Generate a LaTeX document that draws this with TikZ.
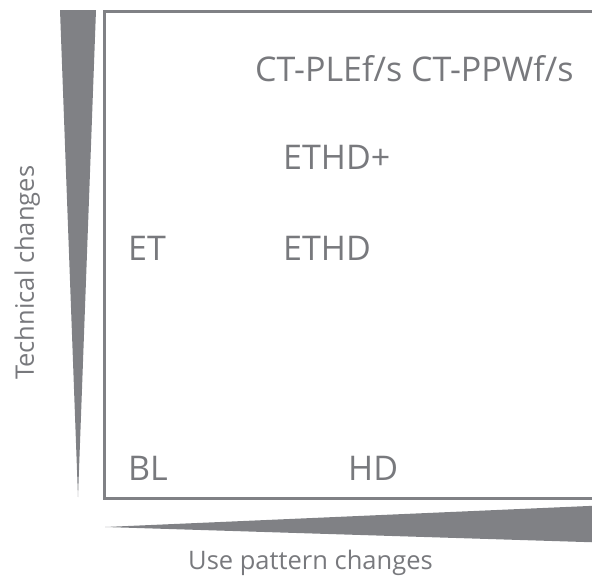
\documentclass[tikz,border=0pt]{standalone}
\usepackage{fontspec}
\setmainfont{Open Sans}
\definecolor{mgray}{RGB}{128,129,133}
\definecolor{tgray}{RGB}{120,121,125}
\begin{document}
\begin{tikzpicture}[x=1pt,y=-1pt,
  lbl/.style={anchor=base west,inner sep=0pt,text=tgray,font=\fontsize{34}{34}\selectfont},
  axl/.style={anchor=base west,inner sep=0pt,text=tgray,font=\fontsize{25.5}{25.5}\selectfont},
  wedge/.style={fill=mgray,draw=none}]
\useasboundingbox (0,0) rectangle (592,581);
\draw[mgray,line width=3pt] (600,11) -- (104,11) -- (104,498) -- (600,498);
\fill[wedge] (60,10) -- (96,10) -- (78,497) -- cycle;
\fill[wedge] (105,527) -- (600,505.5) -- (600,542.5) -- cycle;
\node[lbl] (ct) at (255,81) {CT-PLEf/s CT-PPWf/s};
\node[lbl] (ethdp) at (283,169) {ETHD+};
\node[lbl] (et) at (128,260) {ET};
\node[lbl] (ethd) at (283,260) {ETHD};
\node[lbl] (bl) at (128,480) {BL};
\node[lbl] (hd) at (348,480) {HD};
\node[axl] (use) at (188,569) {Use pattern changes};
\node[axl,rotate=90] (tech) at (34,380) {Technical changes};
\end{tikzpicture}
\end{document}
